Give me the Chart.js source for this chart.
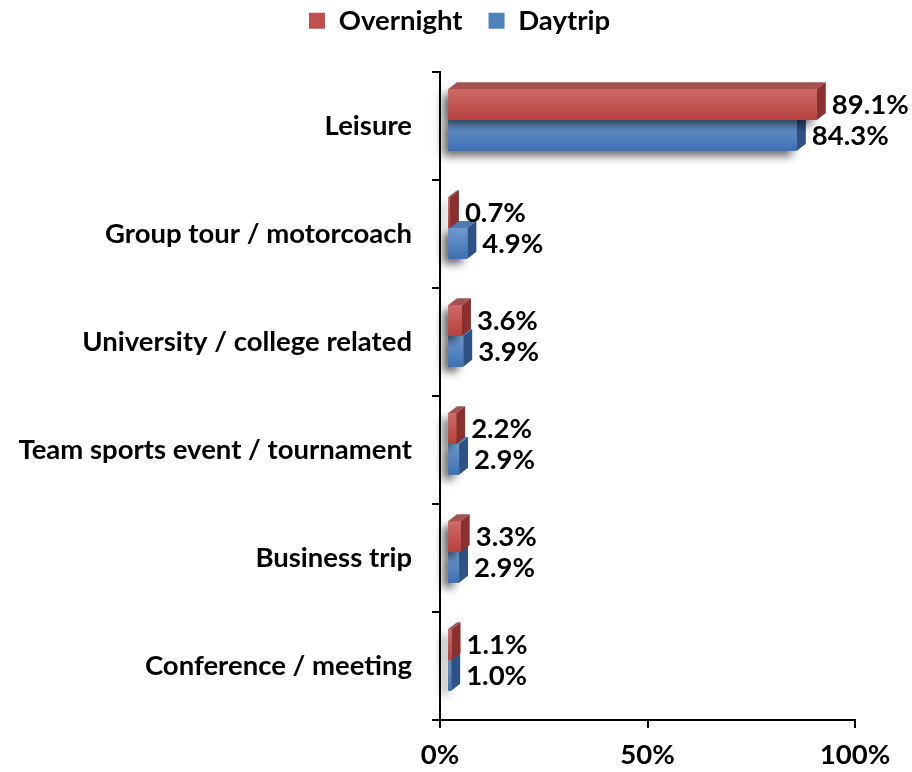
<!DOCTYPE html>
<html>
<head>
<meta charset="utf-8">
<script src="https://cdn.jsdelivr.net/npm/chart.js@4/dist/chart.umd.min.js"></script>
<style>
  html, body { margin: 0; padding: 0; background: #fff; }
  #wrap { width: 912px; height: 772px; }
</style>
</head>
<body>
<div id="wrap"><canvas id="chart" width="912" height="772"></canvas></div>
<script>
const categories = [
  'Leisure',
  'Group tour / motorcoach',
  'University / college related',
  'Team sports event / tournament',
  'Business trip',
  'Conference / meeting'
];
const overnight = [89.1, 0.7, 3.6, 2.2, 3.3, 1.1];
const daytrip = [84.3, 4.9, 3.9, 2.9, 2.9, 1.0];
const xTicks = [0, 50, 100];

const FONT = 'Lato, "Open Sans", sans-serif';
const FSIZE = 27.5;

// face colours for the fake 3D boxes
const faces = [
  { top: '#a4524f', side: '#8a302e', g0: '#cf6b68', g1: '#b8403d' },
  { top: '#5079b2', side: '#2e5286', g0: '#6f9ad0', g1: '#3d70b3' }
];
const SHIFT_X = 7, SHIFT_Y = -6;   // front face offset from the floor
const DEPTH_X = 9, DEPTH_Y = -7;   // box depth

const bars3d = {
  id: 'bars3d',
  afterInit(chart) {
    const legend = chart.legend;
    // legend block reaches down to the plot top, items drawn near the top edge
    const fit = legend.fit;
    legend.fit = function () {
      fit.call(this);
      this.height = 72;
    };
    const draw = legend.draw;
    legend.draw = function (area) {
      const ctx = this.ctx;
      ctx.save();
      ctx.translate(32, -19);
      draw.call(this, area);
      ctx.restore();
    };
  },
  beforeDatasetsDraw(chart) {
    const ctx = chart.ctx;
    // daytrip first so the overnight box sits over its top face
    for (let d = chart.data.datasets.length - 1; d >= 0; d--) {
      const meta = chart.getDatasetMeta(d);
      const f = faces[d];
      meta.data.forEach(bar => {
        const p = bar.getProps(['x', 'y', 'base', 'height'], true);
        const l = p.base + SHIFT_X, r = p.x + SHIFT_X;
        const t = p.y - p.height / 2 + SHIFT_Y, b = p.y + p.height / 2 + SHIFT_Y;

        // soft shadow
        ctx.save();
        ctx.shadowColor = 'rgba(0,0,0,0.6)';
        ctx.shadowBlur = 9;
        ctx.shadowOffsetX = -5;
        ctx.shadowOffsetY = 5;
        ctx.fillStyle = f.g1;
        ctx.fillRect(l, t, r - l, b - t);
        ctx.restore();

        // top face
        ctx.fillStyle = f.top;
        ctx.beginPath();
        ctx.moveTo(l, t);
        ctx.lineTo(r, t);
        ctx.lineTo(r + DEPTH_X, t + DEPTH_Y);
        ctx.lineTo(l + DEPTH_X, t + DEPTH_Y);
        ctx.closePath();
        ctx.fill();

        // right face
        ctx.fillStyle = f.side;
        ctx.beginPath();
        ctx.moveTo(r, t);
        ctx.lineTo(r + DEPTH_X, t + DEPTH_Y);
        ctx.lineTo(r + DEPTH_X, b + DEPTH_Y);
        ctx.lineTo(r, b);
        ctx.closePath();
        ctx.fill();

        // front face
        const g = ctx.createLinearGradient(0, t, 0, b);
        g.addColorStop(0, f.g0);
        g.addColorStop(1, f.g1);
        ctx.fillStyle = g;
        ctx.fillRect(l, t, r - l, b - t);
      });
    }

    // value labels
    ctx.save();
    ctx.font = 'bold ' + FSIZE + 'px ' + FONT;
    ctx.fillStyle = '#000';
    ctx.textAlign = 'left';
    ctx.textBaseline = 'middle';
    chart.data.datasets.forEach((ds, d) => {
      chart.getDatasetMeta(d).data.forEach((bar, i) => {
        const p = bar.getProps(['x', 'y'], true);
        ctx.fillText(ds.data[i].toFixed(1) + '%', p.x + SHIFT_X + DEPTH_X + 6, p.y + SHIFT_Y + 1);
      });
    });
    ctx.restore();
    return false;
  }
};

new Chart(document.getElementById('chart'), {
  type: 'bar',
  data: {
    labels: categories,
    datasets: [
      { label: 'Overnight', data: overnight, backgroundColor: '#c0504d' },
      { label: 'Daytrip', data: daytrip, backgroundColor: '#4f81bd' }
    ]
  },
  options: {
    indexAxis: 'y',
    responsive: false,
    animation: false,
    categoryPercentage: 0.57,
    barPercentage: 1,
    layout: { padding: { left: 0, right: 57, top: 0, bottom: 0 } },
    plugins: {
      legend: {
        position: 'top',
        labels: {
          boxWidth: 16,
          boxHeight: 16,
          padding: 26,
          color: '#000',
          font: { family: FONT, size: FSIZE, weight: 'bold' }
        }
      },
      tooltip: { enabled: false }
    },
    scales: {
      x: {
        min: 0,
        max: 100,
        afterBuildTicks(scale) {
          scale.ticks = xTicks.map(v => ({ value: v }));
        },
        afterFit(scale) { scale.height = 52; },
        border: { color: '#000', width: 2 },
        grid: { drawOnChartArea: false, tickLength: 8, color: '#000', lineWidth: 2 },
        ticks: {
          padding: 11,
          color: '#000',
          maxRotation: 0,
          font: { family: FONT, size: FSIZE, weight: 'bold' },
          callback: v => v + '%'
        }
      },
      y: {
        afterFit(scale) { scale.width = 440; },
        border: { color: '#000', width: 2 },
        grid: { offset: true, drawOnChartArea: false, tickLength: 8, color: '#000', lineWidth: 2 },
        ticks: {
          padding: 20,
          color: '#000',
          font: { family: FONT, size: FSIZE, weight: 'bold' }
        }
      }
    }
  },
  plugins: [bars3d]
});
</script>
</body>
</html>
